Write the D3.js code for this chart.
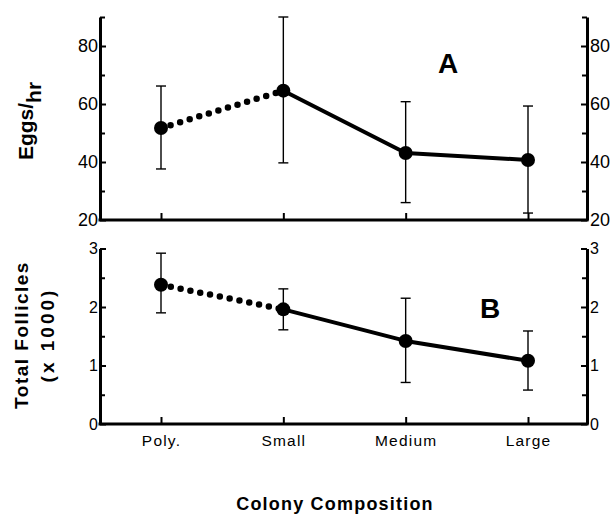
<!DOCTYPE html>
<html>
<head>
<meta charset="utf-8">
<script src="https://cdn.jsdelivr.net/npm/d3@7"></script>
<style>
  body { margin: 0; background: #fff; }
  svg { display: block; }
  .tick text { font-family: 'Liberation Sans', Arial, sans-serif; fill: #000; }
  .tick line { stroke: #000; stroke-width: 2; }
</style>
</head>
<body>
<div id="chart"></div>
<script>
const categories = ['Poly.', 'Small', 'Medium', 'Large'];

// panel A: eggs per hour
const eggsMean = [51.7, 64.6, 43.1, 40.7];
const eggsHigh = [66.2, 90, 60.8, 59.3];
const eggsLow = [37.6, 39.7, 26, 22.4];

// panel B: total follicles (x 1000)
const folMean = [2.38, 1.96, 1.42, 1.08];
const folHigh = [2.92, 2.31, 2.15, 1.59];
const folLow = [1.9, 1.61, 0.71, 0.58];

const eggsTicks = [20, 40, 60, 80];
const eggsMinor = [30, 50, 70, 90];
const folTicks = [0, 1, 2, 3];
const folMinor = [0.5, 1.5, 2.5];

const WIDTH = 615;
const HEIGHT = 515;
const LEFT = 100;
const RIGHT = 587;
const FONT = "'Liberation Sans', Arial, sans-serif";

const svg = d3.select('#chart').append('svg')
  .attr('width', WIDTH)
  .attr('height', HEIGHT);

const x = d3.scalePoint().domain(categories).range([161, 528]);

const panels = [
  {
    mean: eggsMean, high: eggsHigh, low: eggsLow,
    y: d3.scaleLinear([20, 90], [220, 17]),
    ticks: eggsTicks, minor: eggsMinor, tickFont: 18,
    letter: 'A', letterX: 448, letterY: 73,
  },
  {
    mean: folMean, high: folHigh, low: folLow,
    y: d3.scaleLinear([0, 3], [424, 248.5]),
    ticks: folTicks, minor: folMinor, tickFont: 16,
    letter: 'B', letterX: 490, letterY: 318,
  },
];

const drawPanel = (p, index) => {
  const g = svg.append('g');
  const { y } = p;
  const bottom = y.range()[0];
  const fmt = d3.format('d');

  // left axis
  const left = g.append('g').attr('transform', `translate(${LEFT},0)`);
  left.call(d3.axisLeft(y).tickValues(p.ticks).tickFormat(fmt)
    .tickSize(-6).tickSizeOuter(0).tickPadding(2));
  left.append('g').call(d3.axisLeft(y).tickValues(p.minor).tickSize(-5).tickFormat(''))
    .select('.domain').remove();

  // right axis
  const right = g.append('g').attr('transform', `translate(${RIGHT},0)`);
  right.call(d3.axisRight(y).tickValues(p.ticks).tickFormat(fmt)
    .tickSize(-6).tickSizeOuter(0).tickPadding(3));
  right.append('g').call(d3.axisRight(y).tickValues(p.minor).tickSize(-5).tickFormat(''))
    .select('.domain').remove();

  g.selectAll('.domain').attr('stroke', '#000').attr('stroke-width', 3);
  g.selectAll('.tick text').style('font-size', `${p.tickFont}px`);

  // baseline + category ticks
  g.append('line')
    .attr('x1', LEFT - 1.5).attr('x2', RIGHT + 1.5)
    .attr('y1', bottom).attr('y2', bottom)
    .attr('stroke', '#000').attr('stroke-width', 3);

  const xAxis = g.append('g')
    .attr('transform', `translate(0,${bottom})`)
    .call(d3.axisBottom(x).tickSize(-7).tickSizeOuter(0).tickPadding(11));
  xAxis.select('.domain').remove();
  xAxis.selectAll('.tick text')
    .style('font-size', '15.5px')
    .style('letter-spacing', '1.2px')
    .text((d) => (index === 1 ? d : ''));

  // error bars
  const bars = g.append('g').selectAll('g')
    .data(categories)
    .join('g');
  bars.append('line')
    .attr('x1', (d) => x(d)).attr('x2', (d) => x(d))
    .attr('y1', (d, i) => y(p.high[i])).attr('y2', (d, i) => y(p.low[i]));
  bars.append('line')
    .attr('x1', (d) => x(d) - 5).attr('x2', (d) => x(d) + 5)
    .attr('y1', (d, i) => y(p.high[i])).attr('y2', (d, i) => y(p.high[i]));
  bars.append('line')
    .attr('x1', (d) => x(d) - 5).attr('x2', (d) => x(d) + 5)
    .attr('y1', (d, i) => y(p.low[i])).attr('y2', (d, i) => y(p.low[i]));
  bars.selectAll('line').attr('stroke', '#000').attr('stroke-width', 1.4);

  const pts = categories.map((c, i) => [x(c), y(p.mean[i])]);
  const line = d3.line();

  // dotted Poly -> Small
  g.append('path')
    .attr('d', line(pts.slice(0, 2)))
    .attr('fill', 'none')
    .attr('stroke', '#000')
    .attr('stroke-width', 6.5)
    .attr('stroke-linecap', 'round')
    .attr('stroke-dasharray', '0 10');

  // solid Small -> Large
  g.append('path')
    .attr('d', line(pts.slice(1)))
    .attr('fill', 'none')
    .attr('stroke', '#000')
    .attr('stroke-width', 4)
    .attr('stroke-linejoin', 'round');

  g.append('g').selectAll('circle')
    .data(pts)
    .join('circle')
    .attr('cx', (d) => d[0])
    .attr('cy', (d) => d[1])
    .attr('r', 7)
    .attr('fill', '#000');

  g.append('text')
    .attr('x', p.letterX)
    .attr('y', p.letterY)
    .attr('text-anchor', 'middle')
    .style('font-family', FONT)
    .style('font-weight', 'bold')
    .style('font-size', '28px')
    .text(p.letter);
};

panels.forEach(drawPanel);

// y titles
const eggsLabel = svg.append('text')
  .attr('transform', 'translate(33,121) rotate(-90)')
  .attr('text-anchor', 'middle')
  .style('font-family', FONT)
  .style('font-weight', 'bold')
  .style('font-size', '21px');
eggsLabel.append('tspan').text('Eggs');
eggsLabel.append('tspan').text('/');
eggsLabel.append('tspan').attr('dy', 8).text('hr');

svg.append('text')
  .attr('transform', 'translate(28,335) rotate(-90)')
  .attr('text-anchor', 'middle')
  .style('font-family', FONT)
  .style('font-weight', 'bold')
  .style('font-size', '19px')
  .style('letter-spacing', '1.5px')
  .text('Total  Follicles');

svg.append('text')
  .attr('transform', 'translate(54,335) rotate(-90)')
  .attr('text-anchor', 'middle')
  .style('font-family', FONT)
  .style('font-weight', 'bold')
  .style('font-size', '19px')
  .style('letter-spacing', '3px')
  .text('(x 1000)');

// x title
svg.append('text')
  .attr('x', 335)
  .attr('y', 510)
  .attr('text-anchor', 'middle')
  .style('font-family', FONT)
  .style('font-weight', 'bold')
  .style('font-size', '18px')
  .style('letter-spacing', '1.2px')
  .text('Colony  Composition');
</script>
</body>
</html>
